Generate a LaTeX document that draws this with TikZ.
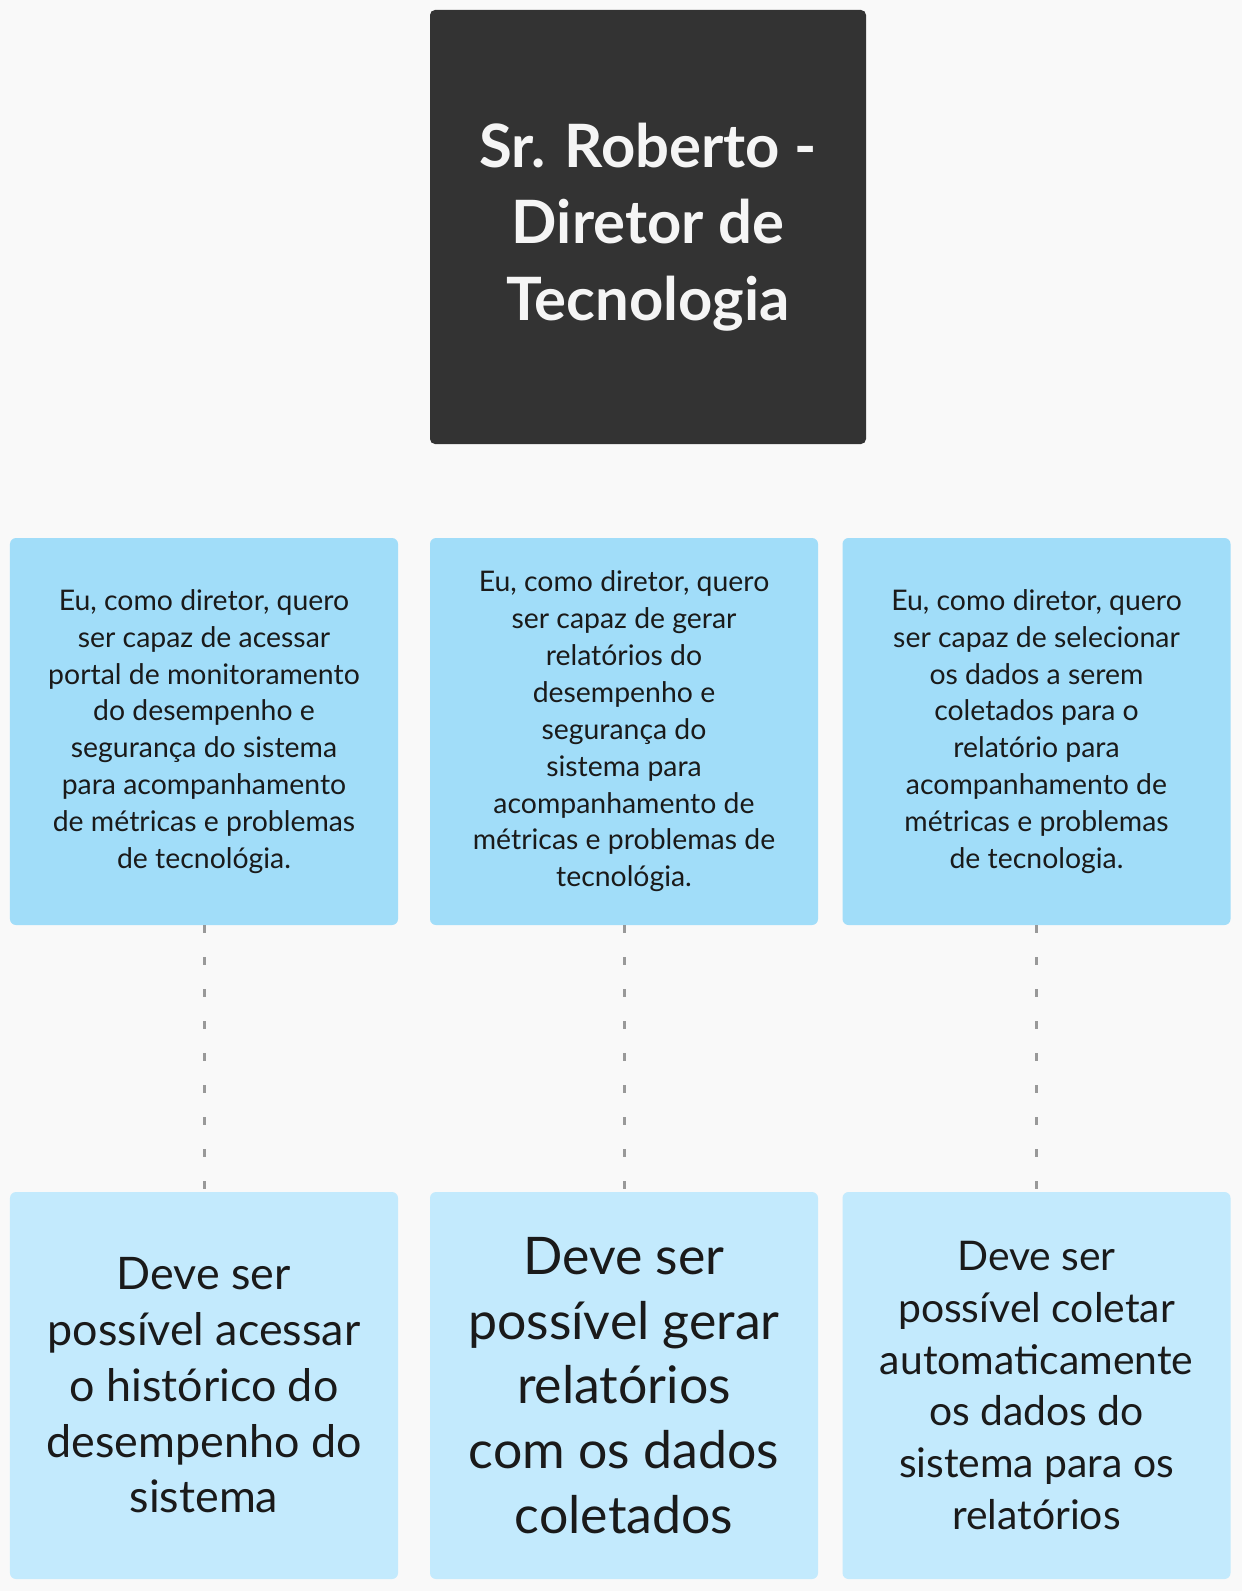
\documentclass[tikz,border=0pt]{standalone}
\usepackage{fontspec}
\setmainfont{Lato}
\usetikzlibrary{positioning}
\definecolor{pagebg}{HTML}{F9F9F9}
\definecolor{chief}{HTML}{333333}
\definecolor{story}{HTML}{A1DDF9}
\definecolor{req}{HTML}{C3EAFD}
\definecolor{ink}{HTML}{1A1A1A}

\begin{document}
\begin{tikzpicture}[x=1bp, y=-1bp]
    \tikzstyle{card}=[rounded corners=6bp, minimum width=388bp, minimum height=387bp,
      align=center, inner sep=0pt, text=ink]
    \tikzstyle{storybox}=[card, fill=story, font=\fontsize{28.5}{37}\selectfont]
    \tikzstyle{reqbox}=[card, fill=req]
    \tikzstyle{link}=[draw=gray!80, line width=3bp, dash pattern=on 8bp off 24bp]

    \fill[pagebg] (0,0) rectangle (1242,1591);
    \useasboundingbox (0,0) rectangle (1242,1591);

    \node[rounded corners=5bp, fill=chief, text=white!96!black, minimum width=436bp,
      minimum height=434bp, align=center, inner sep=0pt,
      font=\fontsize{60}{77}\selectfont\bfseries] (dir) at (648,227)
      {Sr. Roberto -\\Diretor de\\Tecnologia};

    \node[storybox] (us1) at (204,731.5)
      {Eu, como diretor, quero\\ser capaz de acessar\\portal de monitoramento\\do desempenho e\\segurança do sistema\\para acompanhamento\\de métricas e problemas\\de tecnológia.};
    \node[storybox] (us2) at (624,731.5)
      {Eu, como diretor, quero\\ser capaz de gerar\\relatórios do\\desempenho e\\segurança do\\sistema para\\acompanhamento de\\métricas e problemas de\\tecnológia.};
    \node[storybox] (us3) at (1036.5,731.5)
      {Eu, como diretor, quero\\ser capaz de selecionar\\os dados a serem\\coletados para o\\relatório para\\acompanhamento de\\métricas e problemas\\de tecnologia.};

    \node[reqbox, font=\fontsize{45}{56}\selectfont] (rq1) at (204,1385.5)
      {Deve ser\\possível acessar\\o histórico do\\desempenho do\\sistema};
    \node[reqbox, font=\fontsize{52}{65}\selectfont] (rq2) at (624,1385.5)
      {Deve ser\\possível gerar\\relatórios\\com os dados\\coletados};
    \node[reqbox, font=\fontsize{41}{52}\selectfont] (rq3) at (1036.5,1385.5)
      {Deve ser\\possível coletar\\automaticamente\\os dados do\\sistema para os\\relatórios};

    \draw[link] (us1) -- (rq1);
    \draw[link] (us2) -- (rq2);
    \draw[link] (us3) -- (rq3);
\end{tikzpicture}
\end{document}
